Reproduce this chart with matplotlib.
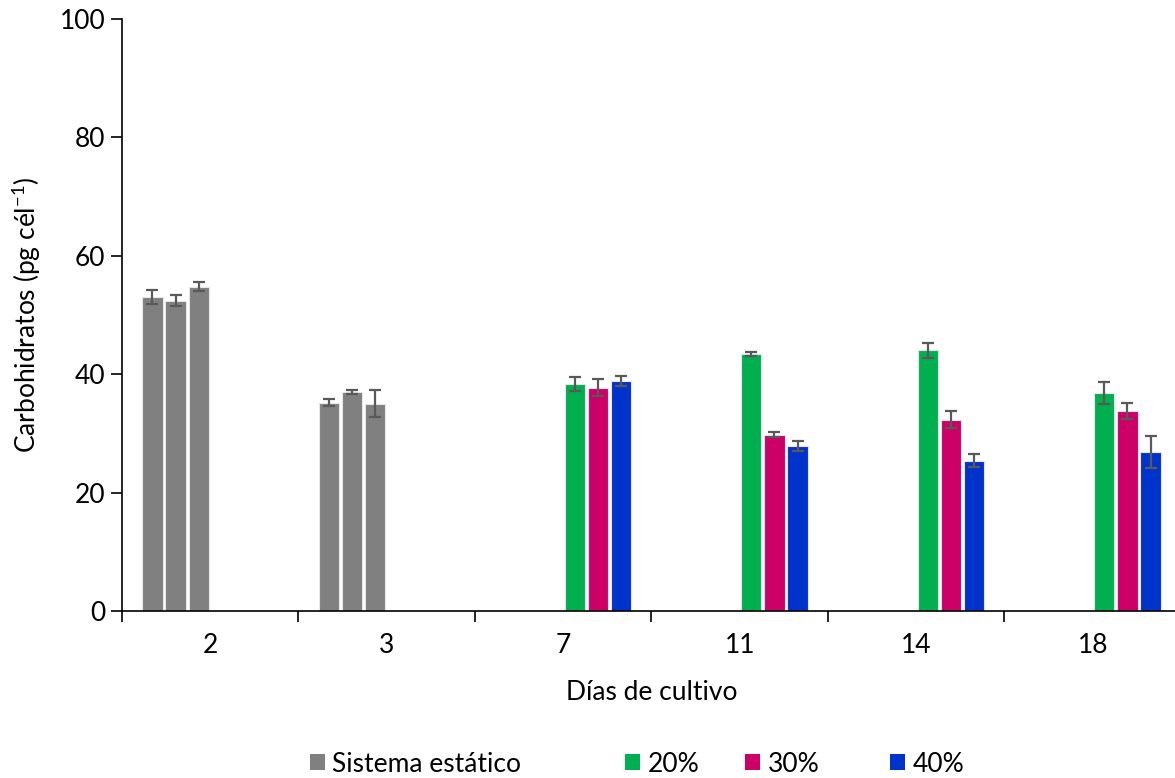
import numpy as np
import matplotlib.pyplot as plt
from matplotlib.patches import Patch

days = ['2', '3', '7', '11', '14', '18']

# static system: three replicate series, only sampled on days 2 and 3
static_1 = [53.1, 35.2, 0, 0, 0, 0]
static_2 = [52.4, 37.0, 0, 0, 0, 0]
static_3 = [54.8, 35.0, 0, 0, 0, 0]
static_1_err = [1.2, 0.6, 0, 0, 0, 0]
static_2_err = [0.9, 0.4, 0, 0, 0, 0]
static_3_err = [0.8, 2.3, 0, 0, 0, 0]

# semi-continuous cultures at 20, 30 and 40 % renewal
pct20 = [0, 0, 38.3, 43.4, 44.0, 36.8]
pct30 = [0, 0, 37.7, 29.8, 32.3, 33.8]
pct40 = [0, 0, 38.9, 27.8, 25.4, 26.8]
pct20_err = [0, 0, 1.2, 0.4, 1.2, 1.85]
pct30_err = [0, 0, 1.4, 0.4, 1.45, 1.35]
pct40_err = [0, 0, 0.85, 0.85, 1.1, 2.7]

legend_labels = ['Sistema estático', '20%', '30%', '40%']

gray, green, pink, blue = '#808080', '#00B050', '#CC0066', '#0033CC'

series = [
    (static_1, static_1_err, gray),
    (static_2, static_2_err, gray),
    (static_3, static_3_err, gray),
    (pct20, pct20_err, green),
    (pct30, pct30_err, pink),
    (pct40, pct40_err, blue),
]

plt.rcParams['font.family'] = ['Lato', 'DejaVu Sans']
fs = 19

fig = plt.figure(figsize=(11.75, 7.78), dpi=100)
ax = fig.add_axes([0.1038, 0.2147, 0.9013, 0.7609])

x = np.arange(len(days))
step = 0.131
width = 0.115
for i, (vals, errs, color) in enumerate(series):
    vals = np.array(vals, dtype=float)
    errs = np.array(errs, dtype=float)
    pos = x + (i - 2.5) * step
    ax.bar(pos, vals, width, color=color, edgecolor='#e6e6e6', linewidth=0.8, zorder=2)
    show = errs > 0
    ax.errorbar(pos[show], vals[show], yerr=errs[show], fmt='none',
                ecolor='#595959', elinewidth=1.6, capsize=4.5, capthick=1.6, zorder=3)

ax.set_xlim(-0.5, len(days) - 0.5)
ax.set_ylim(0, 100)
ax.set_yticks([0, 20, 40, 60, 80, 100])
ax.set_xticks(x)
ax.set_xticklabels(days)
ax.set_xticks(np.arange(len(days) + 1) - 0.5, minor=True)
ax.tick_params(axis='x', which='major', length=0, labelsize=fs, pad=16)
ax.tick_params(axis='x', which='minor', length=8, width=1.2, direction='out')
ax.tick_params(axis='y', length=8, width=1.2, direction='out', labelsize=fs, pad=4)

for side in ['top', 'right']:
    ax.spines[side].set_visible(False)
for side in ['left', 'bottom']:
    ax.spines[side].set_linewidth(1.2)
    ax.spines[side].set_color('black')

ax.set_xlabel('Días de cultivo', fontsize=fs, labelpad=16)
ax.set_ylabel(r'Carbohidratos (pg cél$^{\mathregular{-1}}$)', fontsize=fs, labelpad=12)

# legend entries sit at uneven spacing, so each gets its own legend box
legend_x = [310, 625, 745, 890]
for lx, lab, col in zip(legend_x, legend_labels, [gray, green, pink, blue]):
    fig.legend([Patch(facecolor=col)], [lab], loc='center left',
               bbox_to_anchor=(lx / 1175, 1 - 764 / 778), frameon=False,
               fontsize=fs, handlelength=0.55, handleheight=0.55,
               handletextpad=0.3, borderpad=0, borderaxespad=0)

fig.savefig('out.png', dpi=100)
